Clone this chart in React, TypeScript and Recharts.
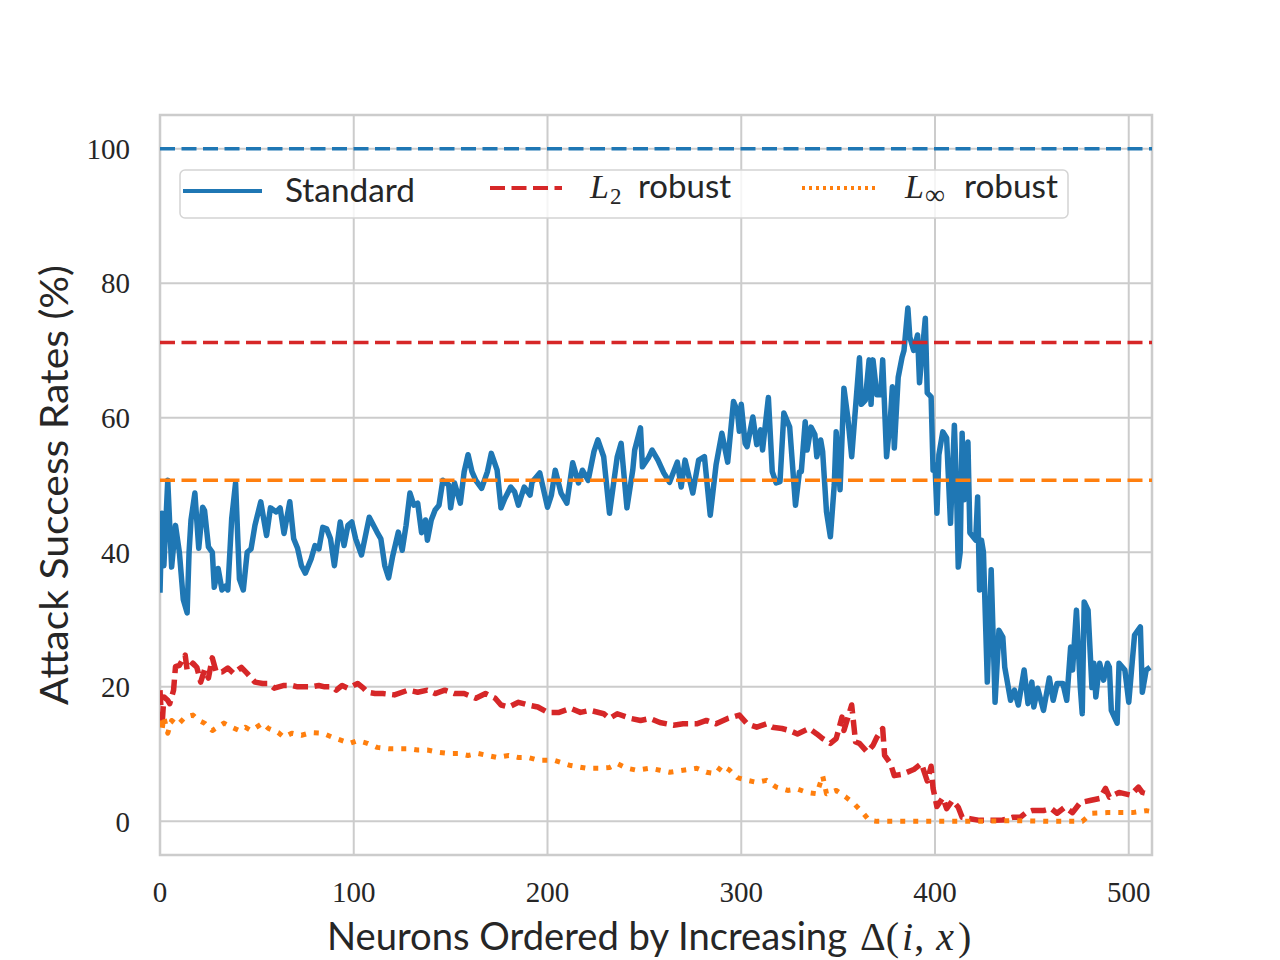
import {
  LineChart,
  Line,
  XAxis,
  YAxis,
  CartesianGrid,
  ReferenceLine,
  ReferenceArea,
  Legend,
  Label,
} from 'recharts';

// neuron index / attack success rate
const stdIdx = [
  0, 1, 2, 4, 6, 8, 10, 12, 14, 15, 16, 18, 20, 22, 23, 25, 27, 28, 30, 32, 34, 35, 37, 39, 41, 43, 45, 47, 49, 52,
  55, 57, 60, 62, 64, 67, 69, 71, 73, 75, 78, 80, 82, 84, 86, 88, 90, 93, 95, 97, 99, 101, 104, 108, 112, 114, 116,
  118, 120, 123, 125, 127, 129, 131, 133, 135, 137, 138, 140, 142, 144, 146, 149, 150, 152, 155, 157, 159, 161, 163,
  166, 169, 171, 174, 176, 178, 181, 183, 185, 188, 191, 192, 196, 200, 202, 204, 207, 210, 213, 216, 218, 221, 224,
  226, 229, 232, 236, 238, 241, 244, 245, 248, 249, 252, 254, 257, 260, 263, 267, 269, 271, 275, 278, 281, 284, 287,
  290, 293, 296, 298, 299, 300, 302, 303, 306, 308, 310, 311, 314, 316, 318, 320, 322, 325, 328, 330, 331, 333, 334,
  336, 338, 339, 341, 342, 344, 346, 348, 349, 351, 353, 355, 357, 359, 361, 362, 364, 366, 367, 368, 370, 372, 373,
  375, 377, 378, 379, 381, 383, 384, 386, 387, 389, 391, 392, 395, 396, 398, 399, 400, 401, 402, 404, 406, 408, 410,
  411, 412, 413, 414, 415, 417, 418, 421, 422, 423, 424, 425, 427, 429, 431, 433, 435, 436, 439, 441, 443, 446, 448,
  450, 451, 453, 456, 459, 461, 463, 466, 468, 470, 471, 473, 475, 476, 477, 479, 481, 482, 483, 485, 487, 489, 490,
  491, 494, 495, 498, 500, 503, 506, 507, 509, 511,
];
const stdVal = [
  34, 45.8, 38, 50.7, 37.8, 44, 40, 33, 31, 40, 44.8, 48.8, 40.6, 46.7, 46.2, 40.8, 40, 34.8, 37.6, 34.4, 35, 34.4, 45,
  50.3, 36, 34.4, 40, 40.5, 44, 47.5, 42.5, 46.6, 46, 46.6, 42.8, 47.5, 42, 40.6, 38, 36.9, 39, 41, 40.5, 43.7, 43.5,
  42, 38, 44.5, 41, 44, 44.5, 42, 39.6, 45.2, 43, 42, 38, 36.2, 39.3, 43, 40.3, 44, 48.8, 47, 47.3, 42.9, 44.8, 41.8,
  44.8, 46.3, 47, 50.7, 50, 46.6, 50.3, 47.3, 52, 54.5, 52, 50.7, 49.5, 52, 54.7, 52.2, 46.6, 48, 49.7, 49, 47, 49.7,
  48.5, 50.4, 51.8, 46.7, 48.5, 52.2, 48.8, 47.3, 53.3, 50.3, 52.2, 50.7, 55, 56.7, 54.2, 45.8, 54.2, 56.2, 46.6, 52.2,
  55.2, 58.5, 52.7, 54, 55.2, 53.7, 51.8, 50.4, 53.4, 49.7, 53.7, 48.8, 53.7, 54.2, 45.5, 53, 57.7, 53.4, 62.4, 61, 58,
  62, 56.2, 55.7, 60.1, 56, 58.2, 55.2, 63, 52, 50.3, 50.5, 60.7, 58.6, 47, 51.9, 52, 59.4, 55.2, 58.6, 57.5, 54.2,
  56.7, 55, 46, 42.3, 50, 57.9, 49.3, 64.4, 60, 54.2, 61.6, 68.9, 62, 62.6, 68.6, 62, 68.6, 63.4, 63.4, 68.6, 54.2, 60,
  64.6, 55.5, 66, 69, 70, 76.3, 72, 70, 72.3, 65.2, 74.8, 63.7, 63.1, 52.2, 53, 45.8, 54.5, 57.9, 57, 44.3, 58.9, 50.7,
  37.8, 40, 57.7, 47.8, 56.4, 42.9, 41.8, 48.2, 34.4, 41.8, 40, 20.7, 37.4, 17.7, 28.4, 27.4, 22.9, 18, 19.5, 17.3,
  22.5, 17.5, 20.7, 17, 19.8, 16.5, 21.3, 18, 20.5, 20.5, 18, 25.9, 22.5, 31.4, 19.9, 16, 32.6, 31.4, 19.9, 23.5, 18.5,
  23.5, 21, 23.5, 22.9, 16.5, 14.6, 23.5, 22.5, 17.7, 27.7, 28.9, 19.2, 22.5, 22.9,
];

const l2Idx = [
  0, 1, 2, 4, 5, 7, 8, 10, 13, 14, 17, 19, 21, 23, 25, 27, 29, 32, 35, 38, 42, 45, 49, 53, 56, 59, 64, 68, 71, 75, 78,
  82, 85, 89, 91, 94, 97, 102, 105, 107, 111, 115, 121, 128, 133, 138, 142, 147, 152, 157, 163, 168, 173, 176, 180,
  185, 190, 195, 200, 206, 212, 217, 222, 229, 232, 236, 243, 248, 253, 258, 265, 270, 277, 282, 287, 293, 299, 303,
  308, 313, 316, 321, 325, 329, 335, 339, 342, 346, 349, 352, 353, 357, 359, 361, 365, 368, 370, 373, 374, 377, 379,
  383, 389, 393, 396, 398, 399, 401, 404, 406, 409, 412, 414, 418, 423, 430, 435, 440, 444, 447, 450, 456, 460, 463,
  467, 471, 475, 480, 485, 488, 490, 495, 501, 505, 507, 511,
];
const l2Val = [
  19.5, 14, 18.5, 18, 17.5, 19.5, 23, 23.2, 24.7, 22.5, 23.5, 22.9, 20.7, 22.5, 21.3, 24.3, 22.2, 22.2, 22.8, 22, 22.9,
  22, 20.7, 20.5, 20.5, 19.8, 20.2, 20.2, 20, 20, 20, 20.2, 20, 20, 19.5, 20.2, 19.8, 20.5, 19.8, 19.2, 19, 19, 18.8,
  19.5, 19.2, 19.5, 19, 19.5, 19, 19, 18.3, 19, 18.3, 17.3, 17, 17.7, 17.3, 17, 16.2, 16.2, 16.8, 16.2, 16.5, 16, 15.3,
  16, 15.3, 15, 15.3, 14.7, 14.3, 14.5, 14.5, 15, 14.5, 15.3, 15.8, 14.5, 14, 14.5, 14, 13.8, 13.5, 13, 13.8, 13, 12.3,
  11.6, 12.3, 15.5, 13.5, 17.3, 11.8, 11.6, 10.3, 11.3, 12.5, 13.8, 9.8, 8.6, 6.8, 7, 7.7, 8.6, 6, 8.2, 4.9, 2.2, 3.5,
  1.9, 3.1, 2.1, 0.6, 0.4, 0.15, 0.15, 0.2, 0.6, 0.6, 1.3, 1.6, 1.6, 1.9, 1.2, 2.1, 1.3, 2.8, 3.1, 3.4, 4.9, 3.6, 4.3,
  3.9, 5.1, 4.3, 4,
];

const linfIdx = [
  0, 1, 2, 4, 6, 9, 13, 17, 20, 23, 27, 33, 37, 41, 44, 47, 53, 56, 61, 64, 68, 73, 78, 84, 89, 94, 98, 102, 107, 112,
  118, 123, 128, 133, 138, 143, 149, 154, 159, 164, 169, 174, 180, 185, 190, 195, 200, 203, 212, 220, 227, 232, 236,
  241, 246, 253, 258, 263, 270, 277, 282, 287, 290, 294, 298, 303, 308, 313, 318, 324, 329, 334, 339, 342, 344, 349,
  354, 358, 363, 366, 370, 420, 440, 460, 476, 481, 489, 495, 502, 509, 511,
];
const linfVal = [
  15, 13.5, 15.5, 13.1, 15, 14.3, 15.5, 15.8, 15, 14.6, 13.5, 14.6, 14, 13.5, 14, 13.5, 14.6, 13.8, 13.2, 12.5, 13.1,
  12.8, 13.2, 13.1, 12.5, 12, 11.6, 12, 11.6, 11, 10.8, 10.8, 10.8, 10.6, 10.6, 10.3, 10.1, 10.1, 9.8, 10.1, 9.8, 9.5,
  9.8, 9.5, 9.5, 9.1, 9.1, 9.1, 8.3, 7.9, 7.9, 8, 8.6, 7.9, 7.6, 7.9, 7.6, 7.3, 7.6, 7.9, 7.3, 7.1, 8.3, 7.6, 6.5, 6.1,
  5.8, 6.1, 5.1, 4.6, 4.8, 4.3, 4.1, 6.8, 4.1, 4.6, 3.6, 2.7, 1.2, 0.15, 0, 0, 0.1, 0, 0, 1.2, 1.3, 1.3, 1.3, 1.6, 1.5,
];

// dashed horizontal baselines: standard, L2, Linf
const baseStd = 100;
const baseL2 = 71.2;
const baseLinf = 50.7;

const xTicks = [0, 100, 200, 300, 400, 500];
const yTicks = [0, 20, 40, 60, 80, 100];

const BLUE = '#1f77b4';
const RED = '#d62728';
const ORANGE = '#ff7f0e';
const GRID = '#cccccc';
const INK = '#262626';
const SANS = 'Lato, "Open Sans", sans-serif';
const SERIF = '"Liberation Serif", "DejaVu Serif", serif';

const rows = (xs: number[], ys: number[]) => xs.map((x, i) => ({ x, v: ys[i] }));
const stdRows = rows(stdIdx, stdVal);
const l2Rows = rows(l2Idx, l2Val);
const linfRows = rows(linfIdx, linfVal);

const DASH = '15 6.5';
const DOT = '5 8';

function LegendBox() {
  return (
    <svg width={892} height={52} style={{ display: 'block', overflow: 'visible' }}>
      <rect x={1} y={1} width={888} height={48} rx={5} fill="#fff" fillOpacity={0.8} stroke="#d4d4d4" strokeWidth={1.5} />
      <line x1={4} x2={83} y1={22} y2={22} stroke={BLUE} strokeWidth={4} />
      <text x={106} y={33} fontFamily={SANS} fontSize={33} fill={INK} textLength={130} lengthAdjust="spacingAndGlyphs">
        Standard
      </text>
      <line x1={311} x2={383} y1={19} y2={19} stroke={RED} strokeWidth={4} strokeDasharray={DASH} />
      <text x={411} y={29} fill={INK}>
        <tspan fontFamily={SERIF} fontStyle="italic" fontSize={34}>L</tspan>
        <tspan fontFamily={SERIF} fontSize={23} dx={1} dy={6}>2</tspan>
      </text>
      <text x={459} y={29} fontFamily={SANS} fontSize={33} fill={INK} textLength={93} lengthAdjust="spacingAndGlyphs">
        robust
      </text>
      <line x1={623} x2={696} y1={19} y2={19} stroke={ORANGE} strokeWidth={4} strokeDasharray="3 4" />
      <text x={726} y={29} fill={INK}>
        <tspan fontFamily={SERIF} fontStyle="italic" fontSize={34}>L</tspan>
        <tspan fontFamily={SERIF} fontSize={28} dx={1} dy={6}>∞</tspan>
      </text>
      <text x={785} y={29} fontFamily={SANS} fontSize={33} fill={INK} textLength={94} lengthAdjust="spacingAndGlyphs">
        robust
      </text>
    </svg>
  );
}

function XTitle() {
  return (
    <text x={327} y={950} fill={INK} fontSize={38}>
      <tspan fontFamily={SANS} textLength={520} lengthAdjust="spacingAndGlyphs">Neurons Ordered by Increasing</tspan>
      <tspan fontFamily={SERIF} fontSize={40} x={860}>Δ(</tspan>
      <tspan fontFamily={SERIF} fontSize={40} fontStyle="italic" dx={3}>i</tspan>
      <tspan fontFamily={SERIF} fontSize={40} dx={1}>,</tspan>
      <tspan fontFamily={SERIF} fontSize={40} fontStyle="italic" dx={12}>x</tspan>
      <tspan fontFamily={SERIF} fontSize={40} dx={4}>)</tspan>
    </text>
  );
}

function YTitle() {
  return (
    <text
      transform="translate(68 485) rotate(-90)"
      textAnchor="middle"
      fontFamily={SANS}
      fontSize={38}
      fill={INK}
      textLength={440}
      lengthAdjust="spacingAndGlyphs"
    >
      Attack Success Rates (%)
    </text>
  );
}

export default function App() {
  return (
    <div style={{ position: 'absolute', left: 0, top: 0, width: 1280, height: 960, background: '#fff' }}>
      <LineChart width={1280} height={960} margin={{ top: 115, right: 128, left: 80, bottom: 45 }}>
        <CartesianGrid stroke={GRID} strokeWidth={2} />
        <XAxis
          type="number"
          dataKey="x"
          domain={[0, 512]}
          ticks={xTicks}
          interval={0}
          allowDataOverflow
          axisLine={false}
          tickLine={false}
          tickSize={0}
          tickMargin={26}
          height={60}
          tick={{ fontFamily: SERIF, fontSize: 29, fill: INK }}
        >
          <Label content={() => <XTitle />} />
        </XAxis>
        <YAxis
          type="number"
          domain={[-5, 105]}
          ticks={yTicks}
          interval={0}
          allowDataOverflow
          axisLine={false}
          tickLine={false}
          tickSize={0}
          tickMargin={30}
          width={80}
          tick={{ fontFamily: SERIF, fontSize: 29, fill: INK }}
        >
          <Label content={() => <YTitle />} />
        </YAxis>
        <ReferenceArea x1={0} x2={512} y1={-5} y2={105} fill="none" stroke={GRID} strokeWidth={2.5} />
        <Line
          data={stdRows}
          dataKey="v"
          stroke={BLUE}
          strokeWidth={5.5}
          strokeLinejoin="round"
          dot={false}
          activeDot={false}
          isAnimationActive={false}
        />
        <Line
          data={l2Rows}
          dataKey="v"
          stroke={RED}
          strokeWidth={5.5}
          strokeDasharray={DASH}
          strokeLinejoin="round"
          dot={false}
          activeDot={false}
          isAnimationActive={false}
        />
        <Line
          data={linfRows}
          dataKey="v"
          stroke={ORANGE}
          strokeWidth={5}
          strokeDasharray={DOT}
          strokeLinejoin="round"
          dot={false}
          activeDot={false}
          isAnimationActive={false}
        />
        <ReferenceLine y={baseStd} stroke={BLUE} strokeWidth={3.5} strokeDasharray={DASH} />
        <ReferenceLine y={baseL2} stroke={RED} strokeWidth={3.5} strokeDasharray={DASH} />
        <ReferenceLine y={baseLinf} stroke={ORANGE} strokeWidth={3.5} strokeDasharray={DASH} />
        <Legend
          layout="horizontal"
          align="center"
          verticalAlign="middle"
          content={() => <LegendBox />}
          wrapperStyle={{ left: 179, top: 169, width: 892, height: 52 }}
        />
      </LineChart>
    </div>
  );
}
